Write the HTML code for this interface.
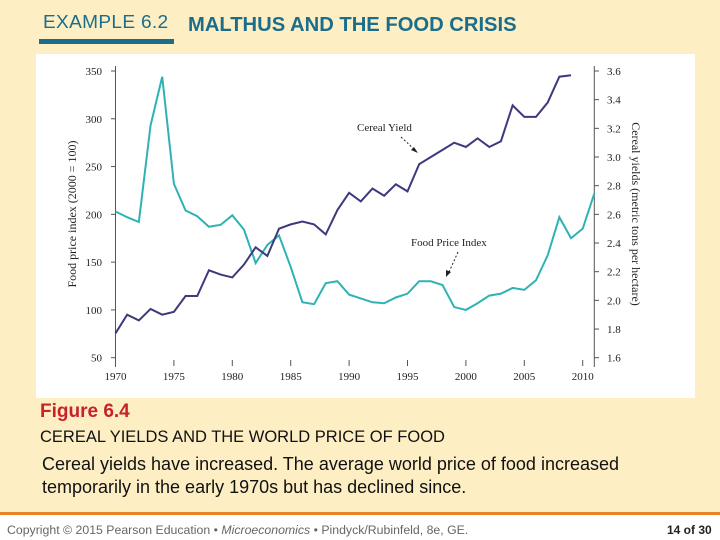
<!DOCTYPE html>
<html><head><meta charset="utf-8"><style>
body{margin:0;width:720px;height:540px;overflow:hidden;background:#fff;font-family:"Liberation Sans",sans-serif}
#slide{position:absolute;left:0;top:0;width:720px;height:512px;background:#fdeec4}
.t{position:absolute;white-space:nowrap}
</style></head><body>
<div id="slide"></div>
<div class="t" style="left:43px;top:12px;font-size:18px;letter-spacing:0.3px;transform:scaleX(1.06);transform-origin:left;color:#1a6e8c">EXAMPLE 6.2</div>
<div style="position:absolute;left:39px;top:39px;width:135px;height:5px;background:#1a6e8c"></div>
<div class="t" style="left:188px;top:14px;font-size:20.2px;font-weight:bold;color:#1a6e8c">MALTHUS AND THE FOOD CRISIS</div>
<svg id="chart" width="720" height="540" style="position:absolute;left:0;top:0" font-family="Liberation Serif, serif">
<rect x="36" y="54" width="659" height="344" fill="#fff"/>
<g id="axes"></g>
<g id="series"></g>
<text x="357" y="131" font-size="11" fill="#222">Cereal Yield</text>
<line x1="401" y1="137" x2="415" y2="150" stroke="#222" stroke-dasharray="2,2"/>
<polygon points="418,153 411,150 414,147" fill="#222"/>
<text x="411" y="246" font-size="11" fill="#222">Food Price Index</text>
<line x1="458" y1="252" x2="449" y2="272" stroke="#222" stroke-dasharray="2,2"/>
<polygon points="446,277 446,270 451,272" fill="#222"/>
<text transform="translate(76,214) rotate(-90)" text-anchor="middle" font-size="12" fill="#222">Food price index (2000 = 100)</text>
<text transform="translate(632,214) rotate(90)" text-anchor="middle" font-size="12" fill="#222">Cereal yields (metric tons per hectare)</text>
</svg>
<div class="t" style="left:40px;top:401px;font-size:19px;font-weight:bold;color:#c8202e">Figure 6.4</div>
<div class="t" style="left:40px;top:428px;font-size:16.5px;color:#111">CEREAL YIELDS AND THE WORLD PRICE OF FOOD</div>
<div class="t" style="left:42px;top:453px;font-size:18px;line-height:23px;color:#111">Cereal yields have increased. The average world price of food increased<br>temporarily in the early 1970s but has declined since.</div>
<div style="position:absolute;left:0;top:512px;width:720px;height:3px;background:#e8832a"></div>
<div class="t" style="left:7px;top:523px;font-size:12.3px;color:#666">Copyright © 2015 Pearson Education • <i>Microeconomics</i> • Pindyck/Rubinfeld, 8e, GE.</div>
<div class="t" style="left:667px;top:523px;font-size:12px;font-weight:bold;color:#222">14 of 30</div>
<script>
const years=[1970,1971,1972,1973,1974,1975,1976,1977,1978,1979,1980,1981,1982,1983,1984,1985,1986,1987,1988,1989,1990,1991,1992,1993,1994,1995,1996,1997,1998,1999,2000,2001,2002,2003,2004,2005,2006,2007,2008,2009,2010,2011];
const foodPrice=[203,197,192,293,344,232,204,198,187,189,199,184,149,168,178,145,108,106,128,130,116,112,108,107,113,117,130,130,126,103,100,107,115,117,123,121,131,157,197,175,185,222];
const cerealYieldYears=[1970,1971,1972,1973,1974,1975,1976,1977,1978,1979,1980,1981,1982,1983,1984,1985,1986,1987,1988,1989,1990,1991,1992,1993,1994,1995,1996,1997,1998,1999,2000,2001,2002,2003,2004,2005,2006,2007,2008,2009];
const cerealYield=[1.77,1.90,1.86,1.94,1.90,1.92,2.03,2.03,2.21,2.18,2.16,2.25,2.37,2.31,2.50,2.53,2.55,2.53,2.46,2.63,2.75,2.69,2.78,2.73,2.81,2.76,2.95,3.00,3.05,3.10,3.07,3.13,3.07,3.11,3.36,3.28,3.28,3.38,3.56,3.57];
const leftTicks=[50,100,150,200,250,300,350];
const rightTicks=[1.6,1.8,2.0,2.2,2.4,2.6,2.8,3.0,3.2,3.4,3.6];
const xTicks=[1970,1975,1980,1985,1990,1995,2000,2005,2010];
const NS='http://www.w3.org/2000/svg';
const X=y=>115.5+(y-1970)*11.68;
const YL=v=>357.7-(v-50)*0.9557;
const YR=v=>357.7-(v-1.6)*143.35;
const axes=document.getElementById('axes'),series=document.getElementById('series');
function mk(tag,at,parent){const e=document.createElementNS(NS,tag);for(const k in at)e.setAttribute(k,at[k]);parent.appendChild(e);return e;}
let e=mk('line',{x1:115.5,y1:66,x2:115.5,y2:367,stroke:'#555'},axes);


e=mk('line',{x1:594.3,y1:66,x2:594.3,y2:367,stroke:'#555'},axes);


leftTicks.forEach(v=>{
 const t=mk('line',{x1:111,x2:115.5,y1:YL(v),y2:YL(v),stroke:'#555'},axes);
 
 
 const l=mk('text',{x:102,y:YL(v)+4,'text-anchor':'end','font-size':11,fill:'#222'},axes);l.textContent=v;
 
 
});
rightTicks.forEach(v=>{
 const t=mk('line',{x1:594.3,x2:599,y1:YR(v),y2:YR(v),stroke:'#555'},axes);
 
 
 const l=mk('text',{x:607,y:YR(v)+4,'font-size':11,fill:'#222'},axes);l.textContent=v.toFixed(1);
 
 
});
xTicks.forEach(v=>{
 const t=mk('line',{x1:X(v),x2:X(v),y1:360,y2:366,stroke:'#555'},axes);
 
 
 const l=mk('text',{x:X(v),y:380,'text-anchor':'middle','font-size':11,fill:'#222'},axes);l.textContent=v;
 
 
});
const fp=mk('polyline',{points:years.map((y,i)=>X(y)+','+YL(foodPrice[i])).join(' '),fill:'none',stroke:'#2eb2b4','stroke-width':2},series);


const cy=mk('polyline',{points:cerealYieldYears.map((y,i)=>X(y)+','+YR(cerealYield[i])).join(' '),fill:'none',stroke:'#3c3a7c','stroke-width':2},series);


</script>
</body></html>
